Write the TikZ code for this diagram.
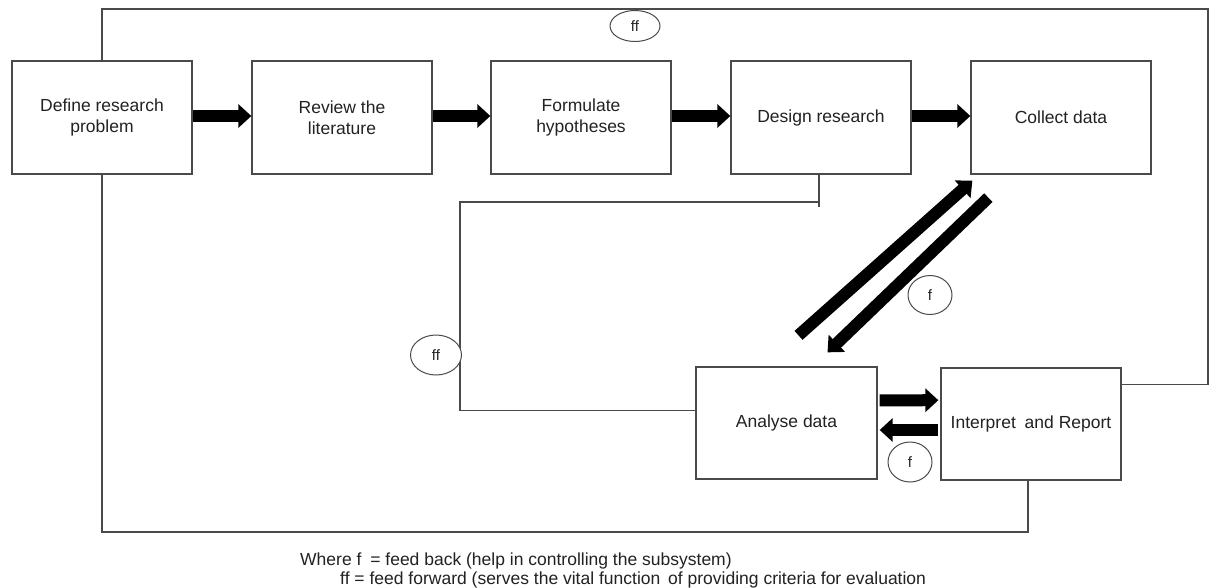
\documentclass[tikz,border=0pt]{standalone}
\usepackage{fontspec}
\setmainfont{Liberation Sans}
\usetikzlibrary{arrows.meta,shapes.geometric,calc}
\definecolor{edge}{HTML}{4A4A4A}
\definecolor{ink}{HTML}{222222}
\tikzset{
  stagebox/.style={draw=edge, line width=1.3pt, fill=white, minimum width=180pt,
    minimum height=113pt, inner sep=2pt, align=center, text=ink,
    font=\fontsize{17.5}{20.5}\selectfont},
  conn/.style={draw=edge, line width=1.3pt},
  bigarrow/.style={line width=12pt, line cap=butt, draw=black,
    -{Triangle[width=23pt,length=13pt]}},
  tag/.style={draw=edge, line width=1pt, fill=white, ellipse, inner sep=0pt,
    text=ink, font=\fontsize{15}{17}\selectfont},
  legend/.style={anchor=base west, inner sep=0pt, text=ink,
    font=\fontsize{17.5}{20}\selectfont}
}
\begin{document}
\begin{tikzpicture}[x=1pt,y=-1pt]
\useasboundingbox[fill=white] (0,0) rectangle (1210,587);

% main chain of stages
\node[stagebox] (define)    at (102,117.5)  {Define research\\problem};
\node[stagebox] (review)    at (342,117.5)  {Review the\\literature};
\node[stagebox] (formulate) at (581,117.5)  {Formulate\\hypotheses};
\node[stagebox] (design)    at (821,117.5)  {Design research};
\node[stagebox] (collect)   at (1061,117.5) {Collect data};
\node[stagebox, minimum width=181pt, minimum height=112pt] (analyse)   at (786.5,423) {Analyse data};
\node[stagebox, minimum height=112pt] (interpret) at (1031,424) {Interpret\hspace{4pt} and Report};

% feed-forward loop over the top
\coordinate (topright) at (1208,9);
\draw[conn] (define.north) |- (topright)
  |- ($(interpret.north east)!0.15!(interpret.south east)$);

% loop along the bottom
\coordinate (bottomleft) at (102,532);
\draw[conn] (define.south) -- (bottomleft) -| ($(interpret.south)+(-3,0)$);

% feed-forward from design to analysis
\coordinate (designtap) at ($(design.south)+(-2,0)$);
\coordinate (midjoin) at (460,202);
\draw[conn] (designtap) -- ++(0,32);
\draw[conn] (designtap |- midjoin) -- (midjoin)
  |- ($(analyse.north west)!0.39!(analyse.south west)$);

% forward arrows of the chain
\draw[bigarrow] ($(define.east)+(0,-1.5)$) -- ($(review.west)+(0,-1.5)$);
\draw[bigarrow] ($(review.east)+(0,-1.5)$) -- ($(formulate.west)+(0,-1.5)$);
\draw[bigarrow] ($(formulate.east)+(0,-1.5)$) -- ($(design.west)+(0,-1.5)$);
\draw[bigarrow] ($(design.east)+(0,-1.5)$) -- ($(collect.west)+(0,-1.5)$);

% collect <-> analyse
\draw[bigarrow] ($(analyse.north)+(12,-31)$) -- ($(collect.south west)+(2,6)$);
\draw[bigarrow] ($(collect.south west)+(18,23)$) -- ($(analyse.north)+(41,-14)$);

% analyse <-> interpret
\draw[bigarrow] ($(analyse.north east)!0.3!(analyse.south east)+(2,0)$)
  -- ($(interpret.north west)!0.29!(interpret.south west)+(-2,0)$);
\draw[bigarrow] ($(interpret.west)+(-2,6)$) -- ($(analyse.east)+(2,7)$);

% loop labels
\node[tag, minimum width=50pt, minimum height=31pt] (fftop) at (635,26)  {ff};
\node[tag, minimum width=51pt, minimum height=40pt] (ffmid) at (436,355) {ff};
\node[tag, minimum width=44pt, minimum height=39pt] (fdiag) at (930,295) {f};
\node[tag, minimum width=44pt, minimum height=40pt] (flow)  at (910,462) {f};

% key
\node[legend] (key1) at (300,565) {Where f\hspace{4pt} = feed back (help in controlling the subsystem)};
\node[legend] (key2) at (340,584) {ff = feed forward (serves the vital function\hspace{3pt} of providing criteria for evaluation};
\end{tikzpicture}
\end{document}
